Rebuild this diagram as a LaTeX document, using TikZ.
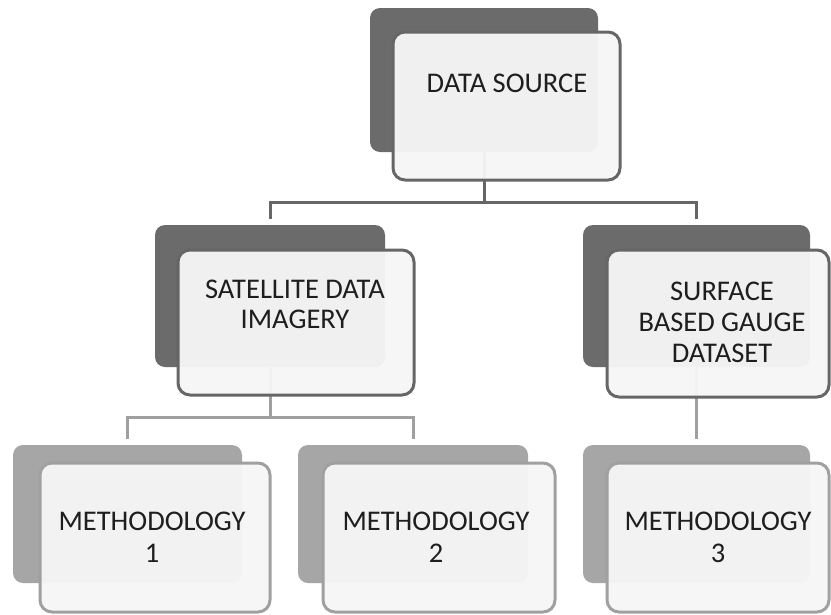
\documentclass[tikz,border=0pt]{standalone}
\usepackage{fontspec}
\setmainfont{Carlito}
\definecolor{shadedark}{HTML}{6B6B6B}
\definecolor{shadelight}{HTML}{A6A6A6}
\definecolor{linedark}{HTML}{666666}
\definecolor{linelight}{HTML}{A0A0A0}
\definecolor{cardfill}{HTML}{F6F6F6}
\definecolor{inktext}{HTML}{1E1E1E}
\begin{document}
\begin{tikzpicture}[x=1pt,y=-1pt,
  boxbase/.style={rectangle, inner sep=0pt, outer sep=0pt},
  backdark/.style={boxbase, fill=shadedark, rounded corners=10pt},
  backlight/.style={boxbase, fill=shadelight, rounded corners=10pt},
  frontdark/.style={boxbase, draw=linedark, line width=3pt, fill=cardfill, fill opacity=0.955, rounded corners=12pt},
  frontlight/.style={boxbase, draw=linelight, line width=3pt, fill=cardfill, fill opacity=0.955, rounded corners=12pt},
  label/.style={align=center, text=inktext, font=\fontsize{28.5}{30}\selectfont, inner sep=0pt},
  connA/.style={draw=linedark, line width=3pt, shorten >=6pt},
  connB/.style={draw=linelight, line width=3pt, shorten >=6pt},
]
\useasboundingbox (0,0) rectangle (831,614);
\fill[white] (0,0) rectangle (831,614);

% shadow cards
\node[backdark,  minimum width=228pt, minimum height=144pt] (dsb) at (484,80) {};
\node[backdark,  minimum width=230pt, minimum height=142pt] (sab) at (270,296) {};
\node[backdark,  minimum width=227pt, minimum height=142pt] (sub) at (696.5,296) {};
\node[backlight, minimum width=229pt, minimum height=138pt] (m1b) at (127.5,514) {};
\node[backlight, minimum width=230pt, minimum height=138pt] (m2b) at (413,514) {};
\node[backlight, minimum width=227pt, minimum height=138pt] (m3b) at (696.5,514) {};

% connectors
\coordinate (jA) at (484,202);
\coordinate (jB) at (270,417);
\draw[connA] (dsb.south) -- (jA) -| (sab.north);
\draw[connA] (jA) -| (sub.north);
\draw[connB] (sab.south) -- (jB) -| (m1b.north);
\draw[connB] (jB) -| (m2b.north);
\draw[connB] (sub.south) -- (m3b.north);

% front cards
\node[frontdark,  minimum width=227pt, minimum height=148pt] (dsf) at (506.5,106) {};
\node[frontdark,  minimum width=236pt, minimum height=145pt] (saf) at (296,322.5) {};
\node[frontdark,  minimum width=222pt, minimum height=147pt] (suf) at (718,323.5) {};
\node[frontlight, minimum width=230pt, minimum height=149pt] (m1f) at (155,537.5) {};
\node[frontlight, minimum width=232pt, minimum height=149pt] (m2f) at (439,537.5) {};
\node[frontlight, minimum width=222pt, minimum height=149pt] (m3f) at (718,537.5) {};

% texts
\node[label] (dst) at (507,83) {DATA SOURCE};
\node[label] (sat) at (295,304.5) {SATELLITE DATA\\IMAGERY};
\node[label, font=\fontsize{28.5}{31}\selectfont] (sut) at (722,322) {SURFACE\\BASED GAUGE\\DATASET};
\node[label, font=\fontsize{28.5}{32}\selectfont] (m1t) at (152,537) {METHODOLOGY\\1};
\node[label, font=\fontsize{28.5}{32}\selectfont] (m2t) at (436,537) {METHODOLOGY\\2};
\node[label, font=\fontsize{28.5}{32}\selectfont] (m3t) at (718,537) {METHODOLOGY\\3};
\end{tikzpicture}
\end{document}
